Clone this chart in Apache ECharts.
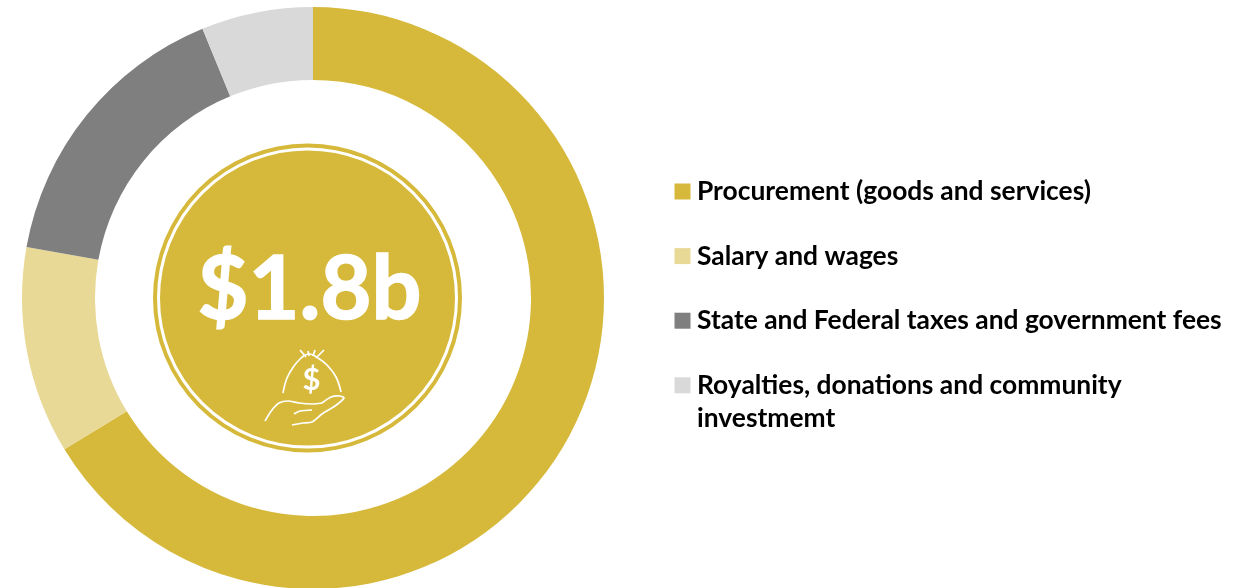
<!DOCTYPE html>
<html>
<head>
<meta charset="utf-8">
<title>$1.8b</title>
<script src="https://cdn.jsdelivr.net/npm/echarts@6/dist/echarts.min.js"></script>
<style>
	html, body { margin: 0; padding: 0; background: #fff; }
	#myChart { width: 1251px; height: 588px; }
</style>
</head>
<body>
<div id="myChart"></div>
<script>
	// values, share of the ring in %
	const categories = [
		'Procurement (goods and services)',
		'Salary and wages',
		'State and Federal taxes and government fees',
		'Royalties, donations and community\ninvestmemt'
	];
	const shares = [66.3, 11.5, 16, 6.2];
	const colors = ['#D6B93B', '#E9D997', '#7F7F7F', '#D9D9D9'];
	const totalLabel = '$1.8b';

	const chart = echarts.init(document.getElementById('myChart'));
	const iconLine = { stroke: '#fff', lineWidth: 1.7, fill: null };
	const legendFont = { fontFamily: 'Lato', fontWeight: 'bold', fontSize: 26.4 };

	function iconPart(points, smooth) {
		return { type: 'polyline', z: 12, shape: { points, smooth }, style: iconLine };
	}

	const option = {
		animation: false,
		legend: {
			orient: 'vertical',
			left: 669.5,
			top: 169.5,
			itemWidth: 16,
			itemHeight: 16,
			itemGap: 30.6,
			icon: 'rect',
			selectedMode: false,
			data: categories,
			// the legend centres its square on the whole text, so the wrapped
			// second line of the last entry is drawn apart below
			formatter: name => name.split('\n')[0],
			textStyle: {
				...legendFont,
				lineHeight: 34,
				color: '#000',
				padding: [0, 0, 0, 1.5]
			}
		},
		series: [{
			type: 'pie',
			center: [313, 298],
			radius: [218, 291],
			startAngle: 90,
			clockwise: true,
			silent: true,
			label: { show: false },
			labelLine: { show: false },
			data: categories.map((name, i) => ({
				name,
				value: shares[i],
				itemStyle: { color: colors[i] }
			}))
		}],
		graphic: {
			elements: [
				{ type: 'circle', z: 10, shape: { cx: 307.5, cy: 298, r: 154.5 }, style: { fill: colors[0] } },
				{ type: 'circle', z: 11, shape: { cx: 307.5, cy: 298, r: 149 }, style: { fill: null, stroke: '#fff', lineWidth: 3 } },
				{
					type: 'text', z: 12, x: 309.5, y: 291,
					style: {
						text: totalLabel, fill: '#fff', stroke: '#fff', lineWidth: 1.5,
						fontFamily: 'Lato', fontWeight: 'bold', fontSize: 88,
						align: 'center', verticalAlign: 'middle'
					}
				},
				{
					type: 'text', z: 12, x: 311.5, y: 380,
					style: {
						text: '$', fill: '#fff', fontFamily: 'Lato', fontWeight: 'bold', fontSize: 31,
						align: 'center', verticalAlign: 'middle'
					}
				},
				{
					type: 'text', z: 12, x: 697, y: 418,
					style: {
						text: categories[3].split('\n')[1], fill: '#000', ...legendFont,
						align: 'left', verticalAlign: 'middle'
					}
				},
				// money bag
				iconPart([[283, 393], [287, 378], [294, 366], [301, 358]], 0.4),
				iconPart([[341, 392], [336, 377], [327, 365], [318, 358]], 0.4),
				iconPart([[301, 358], [309, 354], [318, 358]], 0.4),
				iconPart([[300, 350], [306, 357]], 0),
				iconPart([[308, 351], [309, 356]], 0),
				iconPart([[315, 350], [313, 356]], 0),
				iconPart([[324, 350], [316, 358]], 0),
				// hand
				iconPart([[265, 421], [272, 410], [279, 403], [288, 401], [299, 403], [312, 404], [322, 403]], 0.3),
				iconPart([[322, 403], [331, 397], [340, 396], [344, 398], [335, 406], [322, 414], [312, 422], [303, 423], [292, 425]], 0.2),
				iconPart([[294, 414], [300, 411], [312, 410]], 0.3)
			]
		}
	};

	option && chart.setOption(option);
</script>
</body>
</html>
